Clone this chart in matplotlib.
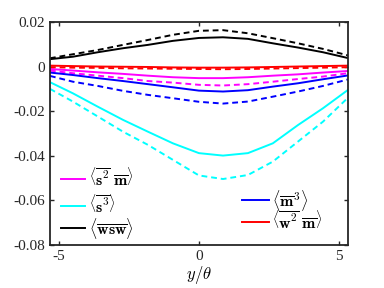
#!/usr/bin/env python3
"""Third-order moment profiles across the layer, solid vs dashed cases."""

import matplotlib
matplotlib.use("Agg")
import matplotlib.pyplot as plt

plt.rcParams['font.family'] = ['Liberation Serif', 'DejaVu Serif']
plt.rcParams['mathtext.fontset'] = 'cm'
plt.rcParams['axes.unicode_minus'] = False

# y/theta sample positions
y = [-5.32, -4.5, -3.61, -2.71, -1.82, -0.93, 0.0, 0.86, 1.75, 2.64, 3.54, 4.43, 5.32]

# solid curves
s2m = [-0.0011, -0.0018, -0.0026, -0.0033, -0.0041, -0.0048, -0.0052,
       -0.0052, -0.0048, -0.0041, -0.0035, -0.0027, -0.0020]
s3 = [-0.0070, -0.0120, -0.0180, -0.0239, -0.0292, -0.0344, -0.0388,
      -0.0399, -0.0388, -0.0344, -0.0262, -0.0187, -0.0105]
wsw = [0.0033, 0.0044, 0.0064, 0.0082, 0.0097, 0.0115, 0.0128,
       0.0131, 0.0124, 0.0104, 0.0085, 0.0064, 0.0038]
m3 = [-0.0027, -0.0038, -0.0052, -0.0065, -0.0079, -0.0093, -0.0108,
      -0.0112, -0.0106, -0.0090, -0.0075, -0.0057, -0.0040]
w2m = [0.0004, 0.0002, 0.0, -0.0001, -0.0002, -0.0004, -0.0005,
       -0.0005, -0.0004, -0.0002, 0.0, 0.0002, 0.0004]

# dashed curves
s2m_d = [-0.0018, -0.0030, -0.0041, -0.0052, -0.0065, -0.0072, -0.0082,
         -0.0085, -0.0079, -0.0068, -0.0056, -0.0045, -0.0030]
s3_d = [-0.0100, -0.0157, -0.0224, -0.0292, -0.0351, -0.0418, -0.0488,
        -0.0504, -0.0486, -0.0426, -0.0336, -0.0247, -0.0140]
wsw_d = [0.0037, 0.0055, 0.0074, 0.0097, 0.0119, 0.0142, 0.0160,
         0.0163, 0.0149, 0.0127, 0.0104, 0.0079, 0.0050]
m3_d = [-0.0042, -0.0068, -0.0087, -0.0109, -0.0127, -0.0142, -0.0158,
        -0.0166, -0.0157, -0.0135, -0.0112, -0.0087, -0.0058]
w2m_d = [-0.0003, -0.0005, -0.0006, -0.0008, -0.0009, -0.0010, -0.0011,
         -0.0012, -0.0011, -0.0009, -0.0007, -0.0005, -0.0003]

yticks = [-0.08, -0.06, -0.04, -0.02, 0, 0.02]
ytick_labels = ['-0.08', '-0.06', '-0.04', '-0.02', '0', '0.02']
xticks = [-5, 0, 5]
xtick_labels = ['-5', '0', '5']

series = [
    (s2m, s2m_d, '#ff00ff', r'$\left\langle \overline{\mathbf{s}^2}\ \overline{\mathbf{m}} \right\rangle$'),
    (s3, s3_d, '#00ffff', r'$\left\langle \overline{\mathbf{s}^3} \right\rangle$'),
    (wsw, wsw_d, '#000000', r'$\langle \overline{\mathbf{wsw}} \rangle$'),
    (m3, m3_d, '#0000ff', r'$\langle \overline{\mathbf{m}}^3 \rangle$'),
    (w2m, w2m_d, '#ff0000', r'$\left\langle \overline{\mathbf{w}^2}\ \overline{\mathbf{m}} \right\rangle$'),
]

fig = plt.figure(figsize=(3.84, 2.88), dpi=100)
ax = fig.add_axes([0.130, 0.149, 0.776, 0.775])

for solid, dashed, color, label in series:
    ax.plot(y, solid, '-', color=color, lw=1.4)
    ax.plot(y, dashed, '--', color=color, lw=1.4, dashes=(3, 2))

ax.set_xlim(-5.32, 5.32)
ax.set_ylim(-0.08, 0.02)
ax.set_xticks(xticks)
ax.set_xticklabels(xtick_labels)
ax.set_yticks(yticks)
ax.set_yticklabels(ytick_labels)
ax.tick_params(direction='in', top=True, right=True, length=3, width=1,
               labelsize=11, colors='#262626')
for sp in ax.spines.values():
    sp.set_linewidth(1.3)
    sp.set_color('#262626')
ax.set_xlabel(r'$y/\theta$', fontsize=12, labelpad=1)

# hand-placed legend entries (axes fractions)
left_entries = [(series[0], 0.298), (series[1], 0.176), (series[2], 0.075)]
right_entries = [(series[3], 0.202), (series[4], 0.105)]
for (s, yy) in left_entries:
    ax.plot([0.037, 0.117], [yy, yy], color=s[2], lw=1.4, transform=ax.transAxes)
    ax.text(0.13, yy, s[3], transform=ax.transAxes, fontsize=11.5, va='center')
for (s, yy) in right_entries:
    ax.plot([0.643, 0.735], [yy, yy], color=s[2], lw=1.4, transform=ax.transAxes)
    ax.text(0.745, yy, s[3], transform=ax.transAxes, fontsize=11.5, va='center')

fig.savefig('out.png', dpi=100)
